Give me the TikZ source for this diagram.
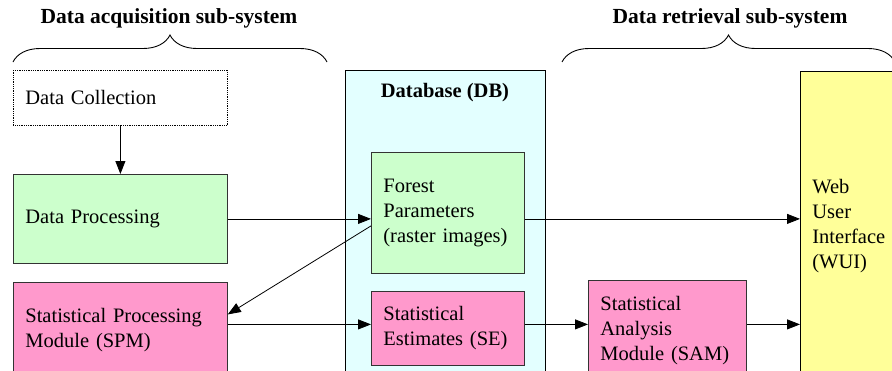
\documentclass[tikz,border=0pt]{standalone}
\usepackage{fontspec}
\setmainfont{Liberation Serif}
\usepackage{tikz}
\usetikzlibrary{arrows.meta,decorations.pathreplacing}
\definecolor{dbcyan}{HTML}{E3FFFF}
\definecolor{boxgreen}{HTML}{CCFFCC}
\definecolor{boxpink}{HTML}{FF99CC}
\definecolor{boxyellow}{HTML}{FFFF99}
\definecolor{edge}{HTML}{333333}

\begin{document}
\begin{tikzpicture}[x=1pt,y=-1pt,
    font=\fontsize{20.5}{25}\selectfont,
    box/.style={draw=edge, line width=0.8pt, anchor=north west, inner xsep=12pt, inner ysep=0pt, align=left},
    arr/.style={-{Triangle[length=13pt,width=10pt]}, line width=0.8pt},
    curly/.style={decorate, decoration={brace, amplitude=27pt}, line width=0.9pt},
    heading/.style={font=\fontsize{21.5}{25}\selectfont\bfseries}]
      \useasboundingbox (0,0) rectangle (892,370);
      \clip (0,0) rectangle (892,370);
      \draw[curly] (13,62) -- (327,62);
      \node[heading] (acqlabel) at (169,18) {Data acquisition sub-system};
      \draw[curly] (562,62) -- (895,62);
      \node[heading] (retlabel) at (730,18) {Data retrieval sub-system};
      \node[box, draw=black, densely dotted, fill=white, text width=190pt, minimum height=55pt] (dc) at (13,70) {Data Collection};
      \node[box, fill=boxgreen, text width=190pt, minimum height=89pt] (dp) at (13,174) {Data Processing};
      \node[box, fill=boxpink, text width=190pt, minimum height=96pt] (spm) at (13,282) {Statistical Processing\\Module (SPM)};
      \node[box, draw=black, fill=dbcyan, minimum width=200pt, minimum height=310pt] (db) at (345,70) {};
      \node[heading, font=\fontsize{20.5}{25}\selectfont\bfseries] (dbtitle) at (445,93) {Database (DB)};
      \node[box, fill=boxgreen, text width=129pt, minimum height=121pt] (fp) at (371,152) {Forest\\Parameters\\(raster images)};
      \node[box, fill=boxpink, text width=129pt, minimum height=74pt] (se) at (371,291) {Statistical\\Estimates (SE)};
      \node[box, fill=boxpink, text width=134pt, minimum height=100pt] (sam) at (588,280) {Statistical\\Analysis\\Module (SAM)};
      \node[box, draw=black, fill=boxyellow, text width=90pt, minimum height=310pt] (wui) at (800,71) {Web\\User\\Interface\\(WUI)};
      \draw[arr] (dc.south) -- (dp.north);
      \draw[arr] (dp.east) -- (dp.east -| fp.west);
      \draw[arr] (dp.east -| fp.east) -- (dp.east -| wui.west);
      \draw[arr] ([yshift=-13pt]fp.west) -- ([yshift=16pt]spm.east);
      \draw[arr] ([yshift=6pt]spm.east) -- ([yshift=6pt]spm.east -| se.west);
      \draw[arr] ([yshift=6pt]spm.east -| se.east) -- ([yshift=6pt]spm.east -| sam.west);
      \draw[arr] ([yshift=6pt]spm.east -| sam.east) -- ([yshift=6pt]spm.east -| wui.west);
    \end{tikzpicture}
\end{document}
